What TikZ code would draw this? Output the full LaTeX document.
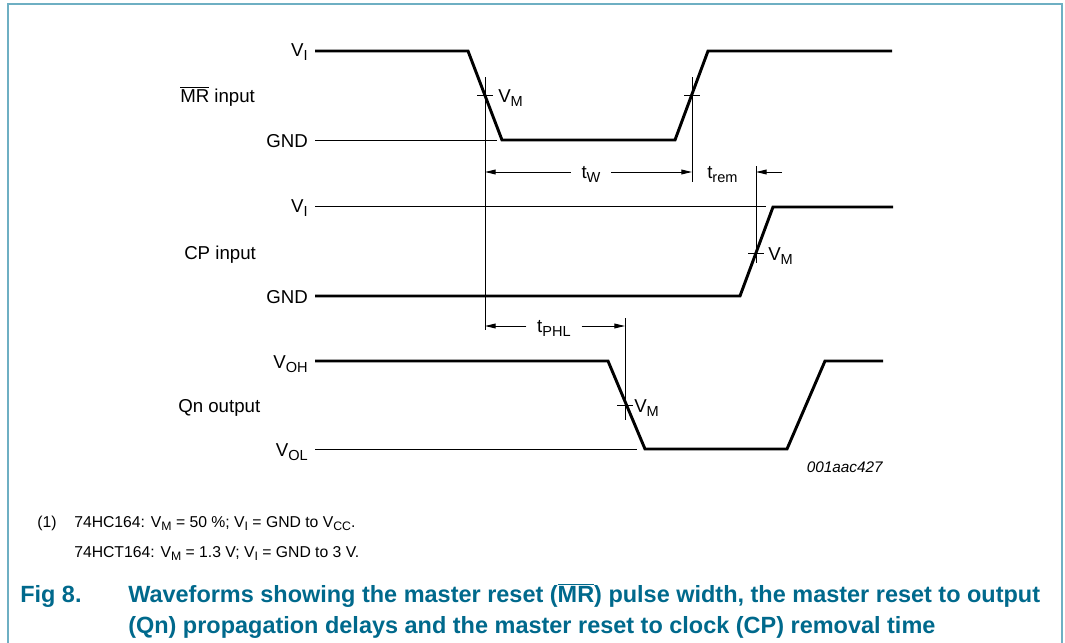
\documentclass[tikz,border=0pt]{standalone}
\usepackage{fontspec}
\setmainfont{Liberation Sans}
\usetikzlibrary{arrows.meta}
\definecolor{framecol}{RGB}{110,175,195}
\definecolor{captcol}{RGB}{0,105,140}
\newlength\sbsz
\makeatletter
\newcommand{\sbs}[1]{{\sbsz=\f@size pt\sbsz=0.78\sbsz\raisebox{-0.45ex}{\fontsize{\sbsz}{\sbsz}\selectfont #1}}}
\makeatother
\begin{document}
\begin{tikzpicture}[x=0.75pt,y=-0.75pt,
  lbl/.style={font=\fontsize{14}{16}\selectfont, inner sep=0pt},
  note/.style={font=\fontsize{11.8}{14}\selectfont, inner sep=0pt, anchor=base west},
  capt/.style={font=\fontsize{17.6}{20}\selectfont\bfseries, text=captcol, inner sep=0pt, anchor=base west},
  wave/.style={line width=2.2pt, line join=miter},
  thin/.style={line width=0.75pt},
  dim/.style={line width=0.75pt, -{Triangle[length=8pt,width=3.6pt]}},
  tick/.style={line width=0.75pt}]
\useasboundingbox (0,0) rectangle (1065,643);
% frame
\draw[framecol, line width=1.5pt] (8,643) -- (8,4) -- (1062,4) -- (1062,643);

% ---------- MR input ----------
\node[lbl, anchor=base east] (mrVI) at (308,56) {V\sbs{I}};
\node[lbl, anchor=base west] (mrlbl) at (180,102) {$\overline{\hbox{MR}}$ input};
\node[lbl, anchor=base east] (mrGND) at (308,147) {GND};
\draw[wave] (315,51) -- (468,51) -- (502,140) -- (675,140) -- (708,51) -- (892,51);
\draw[thin] (315,140) -- (497,140);
\draw[tick] (477,95) -- (493,95);
\draw[tick] (684,95) -- (700,95);
\node[lbl, anchor=base west] (mrVM) at (498,102) {V\sbs{M}};
\coordinate (vA1) at (485,77);
\coordinate (vA2) at (485,330);
\draw[thin] (vA1) -- (vA2);
\coordinate (vB1) at (692,77);
\coordinate (vB2) at (692,182);
\draw[thin] (vB1) -- (vB2);
\node[lbl, anchor=base] (tw) at (591,178) {t\sbs{W}};
\coordinate (twL) at (485,172);
\coordinate (twR) at (692,172);
\draw[dim] (tw.west |- twL) ++(-8pt,0) -- (twL);
\draw[dim] (tw.east |- twR) ++(8pt,0) -- (twR);
\node[lbl, anchor=base west] (trem) at (707,178) {t\sbs{rem}};
\coordinate (vC1) at (756,166);
\coordinate (vC2) at (756,263);
\draw[thin] (vC1) -- (vC2);
\coordinate (tremR) at (782,172);
\coordinate (tremL) at (756,172);
\draw[dim] (tremR) -- (tremL);

% ---------- CP input ----------
\node[lbl, anchor=base east] (cpVI) at (308,212) {V\sbs{I}};
\node[lbl, anchor=base west] (cplbl) at (184,259) {CP input};
\node[lbl, anchor=base east] (cpGND) at (308,303) {GND};
\draw[thin] (315,206) -- (766,206);
\draw[wave] (315,296) -- (740,296) -- (773,207) -- (893,207);
\draw[tick] (748,253) -- (764,253);
\node[lbl, anchor=base west] (cpVM) at (768,260) {V\sbs{M}};

% ---------- Qn output ----------
\node[lbl, anchor=base] (tphl) at (554,332) {t\sbs{PHL}};
\coordinate (tpL) at (485,326);
\coordinate (tpR) at (625,326);
\draw[dim] (tphl.west |- tpL) ++(-8pt,0) -- (tpL);
\draw[dim] (tphl.east |- tpR) ++(8pt,0) -- (tpR);
\coordinate (vD1) at (625,318);
\coordinate (vD2) at (625,420);
\draw[thin] (vD1) -- (vD2);
\node[lbl, anchor=base east] (qVOH) at (308,368) {V\sbs{OH}};
\node[lbl, anchor=base west] (qlbl) at (178,412) {Qn output};
\node[lbl, anchor=base east] (qVOL) at (308,456) {V\sbs{OL}};
\draw[wave] (315,361) -- (608,361) -- (645,449) -- (787,449) -- (825,361) -- (883,361);
\draw[thin] (315,449) -- (637,449);
\draw[tick] (617,405) -- (633,405);
\node[lbl, anchor=base west] (qVM) at (634,412) {V\sbs{M}};
\node[font=\fontsize{11.5}{13}\selectfont\itshape, inner sep=0pt, anchor=base east] (code) at (883,472) {001aac427};

% ---------- notes ----------
\node[note] (n1a) at (37,527) {(1)};
\node[note] (n1b) at (74,527) {74HC164: V\sbs{M} = 50 \%; V\sbs{I} = GND to V\sbs{CC}.};
\node[note] (n2) at (74,557) {74HCT164: V\sbs{M} = 1.3 V; V\sbs{I} = GND to 3 V.};

% ---------- caption ----------
\node[capt] (fig) at (20,602) {Fig 8.};
\node[capt] (c1) at (128,602) {Waveforms showing the master reset ($\overline{\hbox{MR}}$) pulse width, the master reset to output};
\node[capt] (c2) at (128,633) {(Qn) propagation delays and the master reset to clock (CP) removal time};
\end{tikzpicture}
\end{document}
